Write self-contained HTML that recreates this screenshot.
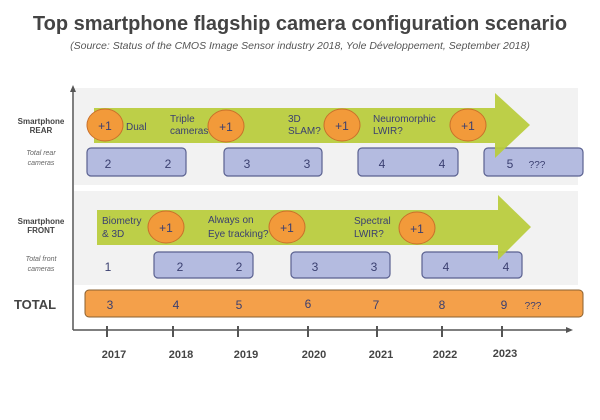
<!DOCTYPE html>
<html><head><style>body{margin:0;background:#fff}svg{display:block}</style></head><body>
<svg width="600" height="420" viewBox="0 0 600 420" xmlns="http://www.w3.org/2000/svg" font-family="Liberation Sans, sans-serif">
<text x="300" y="30" text-anchor="middle" font-size="20" font-weight="bold" fill="#444">Top smartphone flagship camera configuration scenario</text>
<text x="300" y="49" text-anchor="middle" font-size="10.5" font-style="italic" fill="#555">(Source: Status of the CMOS Image Sensor industry 2018, Yole Développement, September 2018)</text>
<rect x="74" y="88" width="504" height="97" fill="#f2f2f2"/>
<rect x="74" y="191" width="504" height="94" fill="#f2f2f2"/>
<line x1="73" y1="88" x2="73" y2="330" stroke="#555" stroke-width="1.5"/>
<polygon points="70,92 73,85 76,92" fill="#555"/>
<line x1="73" y1="330" x2="568" y2="330" stroke="#555" stroke-width="1.5"/>
<polygon points="566,327 573,330 566,333" fill="#555"/>
<g font-size="8" font-weight="bold" fill="#444" text-anchor="middle">
<text x="41" y="124">Smartphone</text><text x="41" y="133">REAR</text>
<text x="41" y="224">Smartphone</text><text x="41" y="233">FRONT</text>
</g>
<g font-size="7" font-style="italic" fill="#666" text-anchor="middle">
<text x="41" y="155">Total rear</text><text x="41" y="165">cameras</text>
<text x="41" y="261">Total front</text><text x="41" y="271">cameras</text>
</g>
<!-- rear boxes -->
<g fill="#b4bbe0" stroke="#5a6190" stroke-width="1.2">
<rect x="87" y="148" width="99" height="28" rx="4"/>
<rect x="224" y="148" width="98" height="28" rx="4"/>
<rect x="358" y="148" width="100" height="28" rx="4"/>
<rect x="484" y="148" width="99" height="28" rx="4"/>
<rect x="154" y="252" width="99" height="26" rx="4"/>
<rect x="291" y="252" width="99" height="26" rx="4"/>
<rect x="422" y="252" width="100" height="26" rx="4"/>
</g>
<polygon points="94,108 495,108 495,93 530,125 495,158 495,143 94,143" fill="#b8cc3a" opacity="0.92"/>
<polygon points="97,210 498,210 498,195 531,227 498,260 498,245 97,245" fill="#b8cc3a" opacity="0.92"/>
<g fill="#f29a3a" stroke="#c9702a" stroke-width="1">
<ellipse cx="105" cy="125" rx="18" ry="16"/>
<ellipse cx="226" cy="126" rx="18" ry="16"/>
<ellipse cx="342" cy="125" rx="18" ry="16"/>
<ellipse cx="468" cy="125" rx="18" ry="16"/>
<ellipse cx="166" cy="227" rx="18" ry="16"/>
<ellipse cx="287" cy="227" rx="18" ry="16"/>
<ellipse cx="417" cy="228" rx="18" ry="16"/>
</g>
<g font-size="12" fill="#3a3f70" text-anchor="middle">
<text x="105" y="130">+1</text><text x="226" y="131">+1</text><text x="342" y="130">+1</text><text x="468" y="130">+1</text>
<text x="166" y="232">+1</text><text x="287" y="232">+1</text><text x="417" y="233">+1</text>
</g>
<g font-size="10" fill="#3a3f70">
<text x="126" y="130">Dual</text>
<text x="170" y="122">Triple</text><text x="170" y="134">cameras</text>
<text x="288" y="122">3D</text><text x="288" y="134">SLAM?</text>
<text x="373" y="122">Neuromorphic</text><text x="373" y="134">LWIR?</text>
<text x="102" y="224">Biometry</text><text x="102" y="237">&amp; 3D</text>
<text x="208" y="223">Always on</text><text x="208" y="237">Eye tracking?</text>
<text x="354" y="224">Spectral</text><text x="354" y="237">LWIR?</text>
</g>
<g font-size="12" fill="#3a3f70" text-anchor="middle">
<text x="108" y="168">2</text><text x="168" y="168">2</text>
<text x="247" y="168">3</text><text x="307" y="168">3</text>
<text x="382" y="168">4</text><text x="442" y="168">4</text>
<text x="510" y="168">5</text><text x="537" y="168" font-size="10">???</text>
<text x="108" y="271">1</text>
<text x="180" y="271">2</text><text x="239" y="271">2</text>
<text x="315" y="271">3</text><text x="374" y="271">3</text>
<text x="446" y="271">4</text><text x="506" y="271">4</text>
</g>
<rect x="85" y="290" width="498" height="27" rx="4" fill="#f4a04a" stroke="#8a6030" stroke-width="1"/>
<text x="35" y="309" text-anchor="middle" font-size="13" font-weight="bold" fill="#444">TOTAL</text>
<g font-size="12" fill="#3a3f70" text-anchor="middle">
<text x="110" y="309">3</text><text x="176" y="309">4</text><text x="239" y="309">5</text><text x="308" y="308">6</text><text x="376" y="309">7</text><text x="442" y="309">8</text><text x="504" y="309">9</text><text x="533" y="309" font-size="10">???</text>
</g>
<g stroke="#555" stroke-width="2">
<line x1="107" y1="326" x2="107" y2="337"/><line x1="173" y1="326" x2="173" y2="337"/><line x1="238" y1="326" x2="238" y2="337"/><line x1="308" y1="326" x2="308" y2="337"/><line x1="377" y1="326" x2="377" y2="337"/><line x1="442" y1="326" x2="442" y2="337"/><line x1="502" y1="326" x2="502" y2="337"/>
</g>
<g font-size="11" font-weight="bold" fill="#444" text-anchor="middle">
<text x="114" y="358">2017</text><text x="181" y="358">2018</text><text x="246" y="358">2019</text><text x="314" y="358">2020</text><text x="381" y="358">2021</text><text x="445" y="358">2022</text><text x="505" y="357">2023</text>
</g>
</svg>
</body></html>
